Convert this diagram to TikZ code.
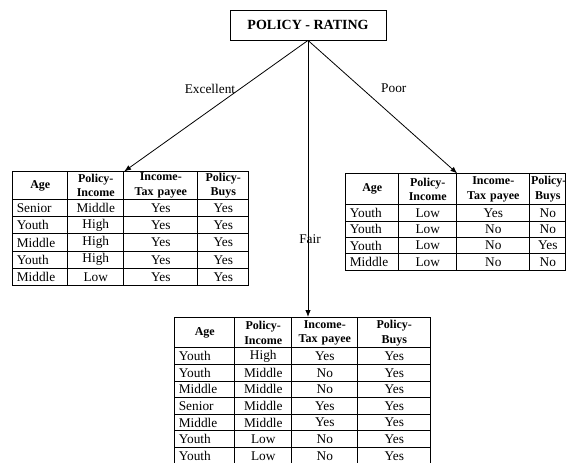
\documentclass[tikz,border=0pt]{standalone}
\usepackage{fontspec}
\setmainfont{Liberation Serif}
\usetikzlibrary{arrows.meta,positioning,matrix}

\begin{document}
\begin{tikzpicture}[x=0.75pt,y=-0.75pt,line width=0.6pt,
  tbl/.style n args={4}{matrix of nodes,inner sep=0pt,anchor=north west,
    column sep=-\pgflinewidth,row sep=-\pgflinewidth,
    nodes={draw,anchor=center,inner xsep=3pt,inner ysep=0pt,align=center,font=\fontsize{10}{12}\selectfont},
    column 1/.style={nodes={text width=#1,align=left}},
    column 2/.style={nodes={text width=#2}},
    column 3/.style={nodes={text width=#3}},
    column 4/.style={nodes={text width=#4}},
    row 1 column 1/.style={nodes={align=center}}},
  rows/.style 2 args={nodes={minimum height=#2},
    row 1/.style={nodes={minimum height=#1,font=\fontsize{9}{11}\selectfont\bfseries}}},
  arr/.style={-{Latex[length=1.8mm,width=1.4mm]}}]
\useasboundingbox (0,0) rectangle (566,462);

\node[draw,minimum width=117pt,minimum height=22.5pt,font=\fontsize{10.5}{12}\selectfont\bfseries] (rating) at (308,25) {POLICY - RATING};

\matrix[tbl={35.25pt}{36pt}{49.5pt}{32.25pt},rows={20.5pt}{13pt}] (excellent) at (12,171) {
Age & {Policy-\\Income} & {Income-\\Tax payee} & {Policy-\\Buys} \\
Senior & Middle & Yes & Yes \\
Youth & High & Yes & Yes \\
Middle & High & Yes & Yes \\
Youth & High & Yes & Yes \\
Middle & Low & Yes & Yes \\
};

\matrix[tbl={33.75pt}{37.5pt}{48.75pt}{25pt},rows={23.25pt}{12.25pt},
  column 4/.append style={nodes={inner xsep=1pt}}] (poor) at (345,173) {
Age & {Policy-\\Income} & {Income-\\Tax payee} & {\mbox{Policy-}\\Buys} \\
Youth & Low & Yes & No \\
Youth & Low & No & No \\
Youth & Low & No & Yes \\
Middle & Low & No & No \\
};

\matrix[tbl={39pt}{36.75pt}{43.5pt}{48.75pt},rows={22.5pt}{12.45pt}] (fair) at (174,317) {
Age & {Policy-\\Income} & {Income-\\Tax payee} & {Policy-\\Buys} \\
Youth & High & Yes & Yes \\
Youth & Middle & No & Yes \\
Middle & Middle & No & Yes \\
Senior & Middle & Yes & Yes \\
Middle & Middle & Yes & Yes \\
Youth & Low & No & Yes \\
Youth & Low & No & Yes \\
};

\draw[arr] (rating.south) -- node[pos=0.37,left]{Excellent} (excellent-1-2.north east);
\draw[arr] (rating.south) -- node[pos=0.36,right=11pt]{Poor} (poor-1-2.north east);
\draw[arr] (rating.south) -- node[pos=0.72,xshift=1.5pt]{Fair} (rating.south |- fair.north);
\end{tikzpicture}
\end{document}
